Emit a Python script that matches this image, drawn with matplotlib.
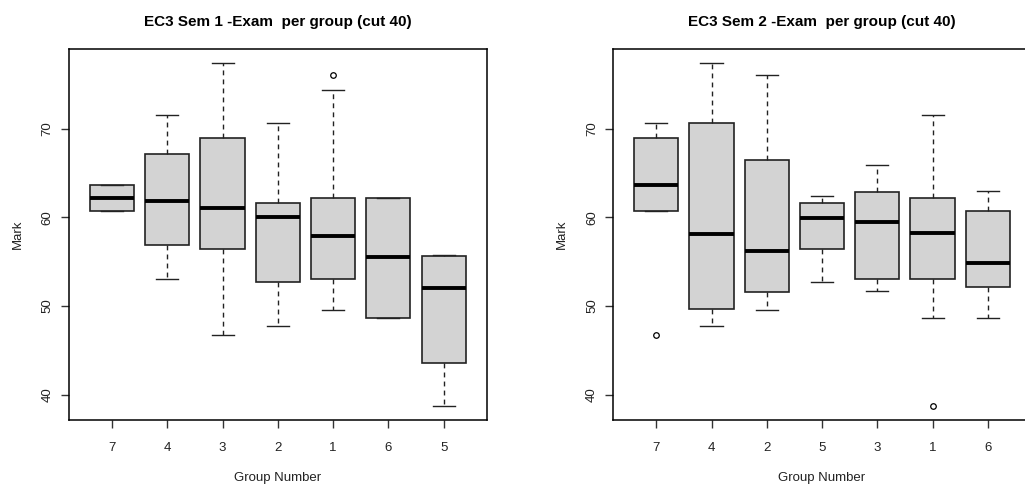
import matplotlib
matplotlib.use("Agg")
import matplotlib.pyplot as plt

plt.rcParams["font.family"] = ["Liberation Sans", "DejaVu Sans"]

# Semester 1 box statistics per group (in plotted order)
sem1_groups = ["7", "4", "3", "2", "1", "6", "5"]
sem1_whislo = [60.7, 53.1, 46.7, 47.8, 49.5, 48.6, 38.7]
sem1_q1 = [60.7, 56.9, 56.4, 52.7, 53.0, 48.6, 43.6]
sem1_med = [62.2, 61.8, 61.1, 60.0, 57.9, 55.5, 52.0]
sem1_q3 = [63.7, 67.1, 68.9, 61.6, 62.2, 62.2, 55.6]
sem1_whishi = [63.7, 71.5, 77.4, 70.6, 74.4, 62.2, 55.7]
sem1_out = [[], [], [], [], [76.1], [], []]

# Semester 2 box statistics per group (in plotted order)
sem2_groups = ["7", "4", "2", "5", "3", "1", "6"]
sem2_whislo = [60.7, 47.8, 49.5, 52.7, 51.7, 48.6, 48.6]
sem2_q1 = [60.7, 49.7, 51.6, 56.4, 53.1, 53.1, 52.2]
sem2_med = [63.7, 58.1, 56.2, 59.9, 59.5, 58.2, 54.8]
sem2_q3 = [68.9, 70.6, 66.5, 61.6, 62.9, 62.2, 60.7]
sem2_whishi = [70.6, 77.4, 76.1, 62.4, 65.9, 71.5, 63.0]
sem2_out = [[46.7], [], [], [], [], [38.7], []]


def draw_panel(ax, groups, lo, q1, med, q3, hi, out, title):
    stats = []
    for i in range(len(groups)):
        stats.append({"whislo": lo[i], "q1": q1[i], "med": med[i],
                      "q3": q3[i], "whishi": hi[i], "fliers": out[i]})
    pos = list(range(1, len(groups) + 1))
    ax.bxp(stats, positions=pos, widths=0.8, capwidths=0.4,
           patch_artist=True, showfliers=True,
           boxprops=dict(facecolor="#d3d3d3", edgecolor="#222222", linewidth=1.2),
           medianprops=dict(color="black", linewidth=2.8, solid_capstyle="butt"),
           whiskerprops=dict(color="#222222", linewidth=1.0, linestyle=(0, (3.5, 3))),
           capprops=dict(color="#222222", linewidth=1.0),
           flierprops=dict(marker="o", markersize=4, markerfacecolor="none",
                           markeredgecolor="black", markeredgewidth=0.9))
    ax.set_xlim(0.22, 7.78)
    ax.set_ylim(37.15, 78.95)
    ax.set_xticks(pos)
    ax.set_xticklabels(groups)
    ax.set_yticks([40, 50, 60, 70])
    ax.set_yticklabels(["40", "50", "60", "70"], rotation=90, va="center")
    ax.tick_params(axis="both", direction="out", length=6, width=1.0,
                   color="#333333", labelsize=9.5, labelcolor="#222222")
    ax.tick_params(axis="x", pad=9.5)
    ax.tick_params(axis="y", pad=5)
    for s in ax.spines.values():
        s.set_linewidth(1.1)
        s.set_color("black")
    ax.set_title(title, fontsize=11, fontweight="bold", pad=17)
    ax.set_xlabel("Group Number", fontsize=9.5, labelpad=13, color="#222222")
    ax.set_ylabel("Mark", fontsize=9.5, labelpad=13, color="#222222")


fig = plt.figure(figsize=(10.25, 4.87), dpi=100)
W, H = 1025, 487
ax1 = fig.add_axes([69 / W, (487 - 420) / H, 417.7 / W, 370.7 / H])
ax2 = fig.add_axes([613.2 / W, (487 - 420) / H, 417.7 / W, 370.7 / H])

draw_panel(ax1, sem1_groups, sem1_whislo, sem1_q1, sem1_med, sem1_q3,
           sem1_whishi, sem1_out, "EC3 Sem 1 -Exam  per group (cut 40)")
draw_panel(ax2, sem2_groups, sem2_whislo, sem2_q1, sem2_med, sem2_q3,
           sem2_whishi, sem2_out, "EC3 Sem 2 -Exam  per group (cut 40)")

fig.savefig("out.png", dpi=100, facecolor="white")
